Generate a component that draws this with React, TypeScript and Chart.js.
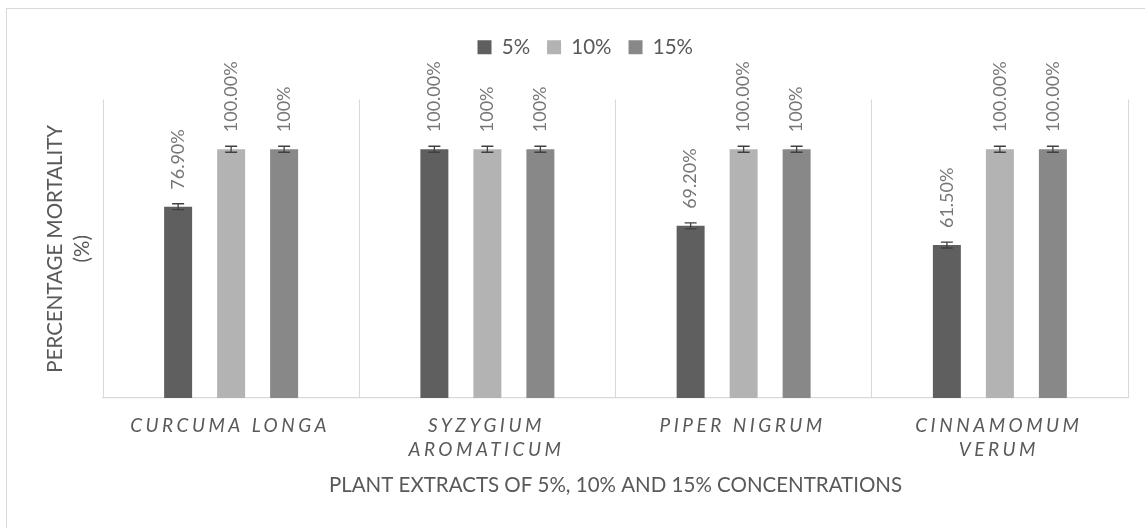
import React, { useEffect, useRef } from "react";
import { Chart, registerables } from "chart.js";

Chart.register(...registerables);

const categories: string[][] = [
  ["CURCUMA LONGA"],
  ["SYZYGIUM", "AROMATICUM"],
  ["PIPER NIGRUM"],
  ["CINNAMOMUM", "VERUM"],
];
const seriesNames = ["5%", "10%", "15%"];
const values5 = [76.9, 100, 69.2, 61.5];
const values10 = [100, 100, 100, 100];
const values15 = [100, 100, 100, 100];
const labels5 = ["76.90%", "100.00%", "69.20%", "61.50%"];
const labels10 = ["100.00%", "100%", "100.00%", "100.00%"];
const labels15 = ["100%", "100%", "100%", "100.00%"];
const errors5 = [1.2, 1.2, 1.2, 1.2];
const errors10 = [1.2, 1.2, 1.2, 1.2];
const errors15 = [1.2, 1.2, 1.2, 1.2];
const yTitle = ["PERCENTAGE MORTALITY", "(%)"];
const xTitle = "PLANT EXTRACTS OF 5%, 10% AND 15% CONCENTRATIONS";

const colors = ["#5f5f5f", "#b3b3b3", "#888888"];
const TEXT = "#595959";
const FONT = "Lato";

const allValues = [values5, values10, values15];
const allLabels = [labels5, labels10, labels15];
const allErrors = [errors5, errors10, errors15];

const overlay = {
  id: "overlay",
  afterDatasetsDraw(chart: any) {
    const ctx = chart.ctx;
    const y = chart.scales.y;
    ctx.save();
    ctx.strokeStyle = "#404040";
    ctx.lineWidth = 1.3;
    chart.data.datasets.forEach((ds: any, i: number) => {
      const meta = chart.getDatasetMeta(i);
      meta.data.forEach((bar: any, j: number) => {
        const v = allValues[i][j];
        const e = allErrors[i][j];
        const x = bar.x;
        const y1 = y.getPixelForValue(v + e);
        const y2 = y.getPixelForValue(v - e);
        ctx.beginPath();
        ctx.moveTo(x, y1);
        ctx.lineTo(x, y2);
        ctx.moveTo(x - 6, y1);
        ctx.lineTo(x + 6, y1);
        ctx.moveTo(x - 6, y2);
        ctx.lineTo(x + 6, y2);
        ctx.stroke();
      });
    });
    ctx.restore();
  },
  afterDraw(chart: any) {
    const ctx = chart.ctx;
    const y = chart.scales.y;
    const xs = chart.scales.x;
    // data labels
    ctx.save();
    ctx.fillStyle = "#767676";
    ctx.font = `18px ${FONT}`;
    ctx.textAlign = "left";
    ctx.textBaseline = "middle";
    chart.data.datasets.forEach((ds: any, i: number) => {
      const meta = chart.getDatasetMeta(i);
      meta.data.forEach((bar: any, j: number) => {
        const top = y.getPixelForValue(allValues[i][j]);
        ctx.save();
        ctx.translate(bar.x, top - 17);
        ctx.rotate(-Math.PI / 2);
        ctx.fillText(allLabels[i][j], 0, 0);
        ctx.restore();
      });
    });
    ctx.restore();
    // x tick labels
    ctx.save();
    ctx.fillStyle = TEXT;
    ctx.font = `italic 19px ${FONT}`;
    (ctx as any).letterSpacing = "3.5px";
    ctx.textAlign = "center";
    ctx.textBaseline = "middle";
    categories.forEach((lines, j) => {
      const cx = xs.getPixelForValue(j);
      lines.forEach((t, k) => {
        ctx.fillText(t, cx - 1, xs.top + 27.5 + k * 24.5);
      });
    });
    ctx.restore();
  },
};

export default function App() {
  const ref = useRef<HTMLCanvasElement>(null);
  useEffect(() => {
    if (!ref.current) return;
    const chart = new Chart(ref.current, {
      type: "bar",
      data: {
        labels: categories.map((c) => c.join(" ")),
        datasets: seriesNames.map((name, i) => ({
          label: name,
          data: allValues[i],
          backgroundColor: colors[i],
          borderColor: colors[i],
          borderWidth: 0,
          barPercentage: 0.528,
          categoryPercentage: 0.6205,
        })),
      },
      options: {
        responsive: false,
        animation: false,
        devicePixelRatio: 1,
        layout: { padding: { top: 20, right: 17, left: 42.5, bottom: 0 } },
        plugins: {
          legend: {
            position: "top",
            weight: 3000,
            labels: {
              boxWidth: 14,
              boxHeight: 14,
              padding: 17,
              color: TEXT,
              font: { family: FONT, size: 20.5 },
            },
          } as any,
          title: {
            display: true,
            text: "",
            weight: 2000,
            padding: { top: 8, bottom: 0 },
            font: { family: FONT, size: 20 },
          } as any,
          tooltip: { enabled: false },
        },
        scales: {
          x: {
            offset: true,
            grid: {
              display: true,
              offset: true,
              color: "#d9d9d9",
              lineWidth: 1,
              drawTicks: false,
            },
            border: { display: true, color: "#d9d9d9", width: 1.3 },
            ticks: { display: false },
            title: {
              display: true,
              text: xTitle,
              color: TEXT,
              font: { family: FONT, size: 20.5 },
              padding: { top: 0, bottom: 30 },
            },
            afterFit: (s: any) => {
              s.height = 130;
            },
          },
          y: {
            min: 0,
            max: 120,
            grid: { display: false },
            border: { display: false },
            ticks: { display: false },
            title: {
              display: true,
              text: yTitle,
              color: TEXT,
              font: { family: FONT, size: 20.5, lineHeight: 1.3 },
              padding: { top: 0, bottom: 0 },
            },
            afterFit: (s: any) => {
              s.width = 60.5;
            },
          },
        },
      },
      plugins: [overlay],
    } as any);
    return () => chart.destroy();
  }, []);
  return (
    <div
      style={{
        position: "fixed",
        left: 0,
        top: 0,
        width: 1145,
        height: 528,
        overflow: "hidden",
        background: "#fff",
      }}
    >
      <div
        style={{
          position: "absolute",
          left: 6,
          top: 8,
          width: 1300,
          height: 700,
          borderLeft: "1.5px solid #d9d9d9",
          borderTop: "1.5px solid #d9d9d9",
        }}
      />
      <canvas
        ref={ref}
        width={1145}
        height={528}
        style={{ position: "absolute", left: 0, top: 0, width: 1145, height: 528 }}
      />
    </div>
  );
}
